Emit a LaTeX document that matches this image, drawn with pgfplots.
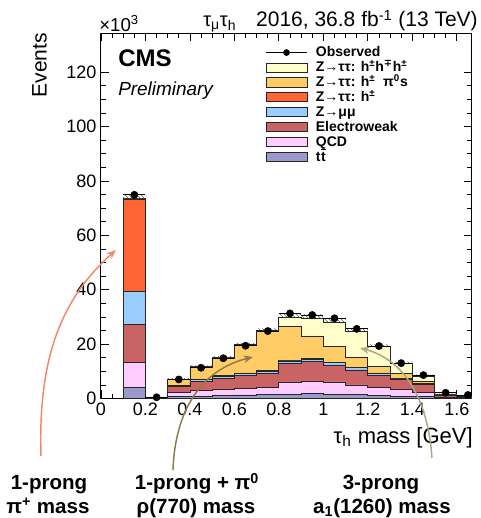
\documentclass[border=0pt]{standalone}
\usepackage{fontspec}
\setmainfont{Liberation Sans}
\newfontfamily\dejavu{DejaVu Sans}
\usepackage{pgfplots}
\usepackage{pgfplotstable}
\pgfplotsset{compat=1.18}
\usepgfplotslibrary{fillbetween}
\usetikzlibrary{patterns,arrows.meta}

\definecolor{prongthree}{HTML}{FFFFCC}
\definecolor{pizeros}{HTML}{FFCC66}
\definecolor{prongone}{HTML}{FF6633}
\definecolor{zmumu}{HTML}{99CCFF}
\definecolor{ewk}{HTML}{CA6464}
\definecolor{qcd}{HTML}{FFCCFF}
\definecolor{ttbar}{HTML}{9999CC}
\definecolor{arrowpi}{HTML}{F4866A}
\definecolor{arrowrho}{HTML}{8C7A4E}
\definecolor{arrowaone}{HTML}{A9A68C}

% cumulative stack tops in 10^3 events, one row per bin low edge;
% the 1.7 row repeats the last bin so the step closes
\pgfplotstableread{
x    tt    qcd   ewk   zmm   hone  hpi   hthree
0.1  4.1   13.2  27.3  39.4  73.3  73.4  73.5
0.2  0.05  0.15  0.30  0.38  0.42  0.48  0.50
0.3  0.8   2.2   4.3   4.8   4.9   7.0   7.05
0.4  0.8   2.9   6.2   7.0   7.2   11.6  11.7
0.5  1.0   3.2   7.4   8.2   8.4   14.9  15.0
0.6  1.3   3.6   8.4   9.2   9.4   19.6  19.8
0.7  1.5   4.0   9.3   10.1  10.3  24.7  24.9
0.8  1.6   5.8   12.9  13.8  14.0  26.4  29.7
0.9  1.7   6.4   13.5  14.5  14.6  23.0  29.6
1.0  1.6   6.1   12.3  13.2  13.3  19.0  28.0
1.1  1.4   5.0   10.5  11.3  11.4  15.0  24.6
1.2  1.1   4.1   8.6   9.3   9.4   11.9  19.0
1.3  0.9   3.4   7.2   7.4   7.5   9.3   12.9
1.4  0.6   2.1   5.1   5.3   5.4   6.4   8.3
1.5  0.1   0.3   1.2   1.3   1.35  1.5   1.65
1.6  0.05  0.15  0.5   0.55  0.6   0.65  0.7
1.7  0.05  0.15  0.5   0.55  0.6   0.65  0.7
}\stacktops

% uncertainty band on the total
\pgfplotstableread{
x    lo    up
0.1  72.9  75.1
0.2  0.4   0.6
0.3  6.9   7.5
0.4  11.5  12.2
0.5  14.8  15.6
0.6  19.5  20.5
0.7  24.6  25.8
0.8  29.4  31.0
0.9  29.3  30.9
1.0  27.7  29.3
1.1  24.3  25.8
1.2  18.8  19.9
1.3  12.7  13.6
1.4  8.1   8.8
1.5  1.55  1.8
1.6  0.65  0.8
1.7  0.65  0.8
}\unc

\pgfplotstableread{
x     obs
0.15  74.9
0.25  0.45
0.35  7.0
0.45  11.3
0.55  14.8
0.65  19.4
0.75  24.8
0.85  31.3
0.95  30.7
1.05  29.5
1.15  25.6
1.25  19.3
1.35  13.0
1.45  8.6
1.55  2.1
1.65  1.3
}\observed

\pgfplotsset{
  boxlegend/.style={legend image code/.code={
    \draw[##1, line width=0.6pt] (0pt,-3.4pt) rectangle (30.75pt,3.4pt);}},
  layer/.style={const plot, fill=#1, draw=black!85, line width=0.6pt, boxlegend},
}

\begin{document}
\begin{tikzpicture}
\begin{axis}[
  scale only axis, width=278pt, height=274.1pt,
  at={(0,0)}, anchor=south west,
  xmin=0, xmax=1.667, ymin=0, ymax=134.4,
  xtick={0,0.2,0.4,0.6,0.8,1,1.2,1.4,1.6}, minor x tick num=3,
  ytick={0,20,40,60,80,100,120}, minor y tick num=3,
  major tick length=6pt, minor tick length=3.5pt,
  tick style={black, line width=0.6pt},
  axis line style={line width=0.75pt},
  tick label style={font=\fontsize{13.5}{14}\selectfont},
  /pgf/number format/assume math mode=true,
  xlabel={τ\textsubscript{h} mass [GeV]},
  ylabel={Events},
  label style={font=\fontsize{15.75}{17}\selectfont},
  xlabel style={font=\fontsize{16.5}{18}\selectfont,
    at={(axis description cs:1.0035,-0.1218)}, anchor=base east, inner sep=0pt},
  ylabel style={at={(axis description cs:-0.1465,1)}, anchor=base east, inner sep=0pt},
  legend cell align=left,
  legend style={at={(axis description cs:0.444,0.967)}, anchor=north west,
    draw=none, fill=none, inner sep=0pt, outer sep=0pt,
    font=\bfseries\fontsize{10.5}{12}\selectfont,
    nodes={inner sep=1.1pt, text height=7.5pt, text depth=1.5pt},
    column sep=5.3pt, row sep=0pt},
]
\addlegendimage{legend image code/.code={
  \draw[black, line width=0.6pt] (0pt,0pt) -- (30.75pt,0pt);
  \fill[black] (15.4pt,0pt) circle (2.3pt);}}
\addlegendentry{Observed}

\addplot[layer=prongthree] table[x=x, y=hthree] {\stacktops} \closedcycle;
\addlegendentry{Z→ττ: h\textsuperscript{±}h\textsuperscript{\dejavu ∓}h\textsuperscript{±}}
\addplot[layer=pizeros] table[x=x, y=hpi] {\stacktops} \closedcycle;
\addlegendentry{Z→ττ: h\textsuperscript{±}\ \ π\textsuperscript{0}s}
\addplot[layer=prongone] table[x=x, y=hone] {\stacktops} \closedcycle;
\addlegendentry{Z→ττ: h\textsuperscript{±}}
\addplot[layer=zmumu] table[x=x, y=zmm] {\stacktops} \closedcycle;
\addlegendentry{Z→μμ}
\addplot[layer=ewk] table[x=x, y=ewk] {\stacktops} \closedcycle;
\addlegendentry{Electroweak}
\addplot[layer=qcd] table[x=x, y=qcd] {\stacktops} \closedcycle;
\addlegendentry{QCD}
\addplot[layer=ttbar] table[x=x, y=tt] {\stacktops} \closedcycle;
\addlegendentry{t\kern0.4pt\rlap{\rule[8.4pt]{3.8pt}{0.8pt}}t}

\addplot[const plot, draw=none, name path=up, forget plot] table[x=x, y=up] {\unc};
\addplot[const plot, draw=none, name path=lo, forget plot] table[x=x, y=lo] {\unc};
\addplot[pattern=north west lines, pattern color=black!65, forget plot] fill between[of=up and lo];

\addplot[only marks, mark=*, mark size=2.7pt, black, forget plot,
  error bars/.cd, x dir=both, x fixed=0.05, error mark=none,
  error bar style={line width=0.6pt, black}]
  table[x=x, y=obs] {\observed};
\end{axis}

% texts and arrows, placed in pixels of the 481x518 frame
\begin{scope}[x=0.75pt, y=-0.75pt, xshift=-75.75pt, yshift=298.875pt]
  \node[anchor=base west, inner sep=0pt, font=\fontsize{14}{16}\selectfont] at (99,31.5) {×10\textsuperscript{3}};
  \node[anchor=base west, inner sep=0pt, font=\fontsize{15}{16}\selectfont] at (203,27) {τ\textsubscript{μ}τ\textsubscript{h}};
  \node[anchor=base east, inner sep=0pt, font=\fontsize{15.75}{17}\selectfont] at (478,27) {2016, 36.8 fb\textsuperscript{-1} (13 TeV)};
  \node[anchor=base west, inner sep=0pt, font=\bfseries\fontsize{18}{20}\selectfont] at (118,67) {CMS};
  \node[anchor=base west, inner sep=0pt, font=\itshape\fontsize{14.2}{16}\selectfont] at (118,96) {Preliminary};

  \draw[arrowpi, line width=1.1pt, -{Stealth[length=7pt,width=5.5pt]}]
    (41,456) .. controls (38,360) and (60,300) .. (116,250);
  \draw[arrowrho, line width=1.1pt, -{Stealth[length=7pt,width=5.5pt]}]
    (173,470) .. controls (175,412) and (200,370) .. (253,357);
  \draw[arrowaone, line width=1.1pt, -{Stealth[length=7pt,width=5.5pt]}]
    (432,458) .. controls (428,400) and (405,360) .. (360,348);

  \begin{scope}[every node/.style={anchor=base, inner sep=0pt, font=\bfseries\fontsize{15.4}{17}\selectfont}]
    \node at (49,490) {1-prong};
    \node at (48,513.5) {π\textsuperscript{+} mass};
    \node at (197,490) {1-prong + π\textsuperscript{0}};
    \node at (196,513.5) {ρ(770) mass};
    \node at (381,490) {3-prong};
    \node at (382,513.5) {a\textsubscript{1}(1260) mass};
  \end{scope}
\end{scope}

% the page is the 481x518 frame of the reference
\pgfresetboundingbox
\path[use as bounding box] (-75.75pt,-89.625pt) rectangle (285pt,298.875pt);
\end{tikzpicture}
\end{document}
